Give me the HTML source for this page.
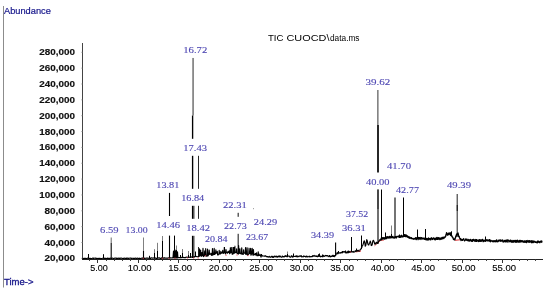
<!DOCTYPE html>
<html><head><meta charset="utf-8"><style>html,body{margin:0;padding:0;background:#fff;overflow:hidden}svg{display:block;will-change:transform}.ls{font-family:"Liberation Sans",sans-serif}.lr{font-family:"Liberation Serif",serif}</style></head>
<body><svg width="550" height="291" viewBox="0 0 550 291">
<rect width="550" height="291" fill="#fff"/>
<line x1="3.5" y1="6" x2="3.5" y2="287.5" stroke="#8c8c8c" stroke-width="1"/>
<text x="4" y="13.6" class="ls" font-size="9.8" fill="#14148a" stroke="#14148a" stroke-width="0.2" textLength="46.8" lengthAdjust="spacingAndGlyphs">Abundance</text>
<text x="4" y="284.8" class="ls" font-size="8.8" fill="#16168a" stroke="#16168a" stroke-width="0.3" textLength="29.5" lengthAdjust="spacingAndGlyphs">Time-&gt;</text>
<line x1="82.5" y1="43" x2="82.5" y2="259.5" stroke="#444" stroke-width="1"/>
<text x="75.0" y="55.30" text-anchor="end" class="ls" font-weight="bold" font-size="8.6" fill="#111" stroke="#111" stroke-width="0.15" textLength="35.7" lengthAdjust="spacingAndGlyphs">280,000</text>
<line x1="81" y1="52.30" x2="82.5" y2="52.30" stroke="#999" stroke-width="0.6"/>
<text x="75.0" y="71.15" text-anchor="end" class="ls" font-weight="bold" font-size="8.6" fill="#111" stroke="#111" stroke-width="0.15" textLength="35.7" lengthAdjust="spacingAndGlyphs">260,000</text>
<line x1="81" y1="68.15" x2="82.5" y2="68.15" stroke="#999" stroke-width="0.6"/>
<text x="75.0" y="87.00" text-anchor="end" class="ls" font-weight="bold" font-size="8.6" fill="#111" stroke="#111" stroke-width="0.15" textLength="35.7" lengthAdjust="spacingAndGlyphs">240,000</text>
<line x1="81" y1="84.00" x2="82.5" y2="84.00" stroke="#999" stroke-width="0.6"/>
<text x="75.0" y="102.85" text-anchor="end" class="ls" font-weight="bold" font-size="8.6" fill="#111" stroke="#111" stroke-width="0.15" textLength="35.7" lengthAdjust="spacingAndGlyphs">220,000</text>
<line x1="81" y1="99.85" x2="82.5" y2="99.85" stroke="#999" stroke-width="0.6"/>
<text x="75.0" y="118.70" text-anchor="end" class="ls" font-weight="bold" font-size="8.6" fill="#111" stroke="#111" stroke-width="0.15" textLength="35.7" lengthAdjust="spacingAndGlyphs">200,000</text>
<line x1="81" y1="115.70" x2="82.5" y2="115.70" stroke="#999" stroke-width="0.6"/>
<text x="75.0" y="134.55" text-anchor="end" class="ls" font-weight="bold" font-size="8.6" fill="#111" stroke="#111" stroke-width="0.15" textLength="35.7" lengthAdjust="spacingAndGlyphs">180,000</text>
<line x1="81" y1="131.55" x2="82.5" y2="131.55" stroke="#999" stroke-width="0.6"/>
<text x="75.0" y="150.40" text-anchor="end" class="ls" font-weight="bold" font-size="8.6" fill="#111" stroke="#111" stroke-width="0.15" textLength="35.7" lengthAdjust="spacingAndGlyphs">160,000</text>
<line x1="81" y1="147.40" x2="82.5" y2="147.40" stroke="#999" stroke-width="0.6"/>
<text x="75.0" y="166.25" text-anchor="end" class="ls" font-weight="bold" font-size="8.6" fill="#111" stroke="#111" stroke-width="0.15" textLength="35.7" lengthAdjust="spacingAndGlyphs">140,000</text>
<line x1="81" y1="163.25" x2="82.5" y2="163.25" stroke="#999" stroke-width="0.6"/>
<text x="75.0" y="182.10" text-anchor="end" class="ls" font-weight="bold" font-size="8.6" fill="#111" stroke="#111" stroke-width="0.15" textLength="35.7" lengthAdjust="spacingAndGlyphs">120,000</text>
<line x1="81" y1="179.10" x2="82.5" y2="179.10" stroke="#999" stroke-width="0.6"/>
<text x="75.0" y="197.95" text-anchor="end" class="ls" font-weight="bold" font-size="8.6" fill="#111" stroke="#111" stroke-width="0.15" textLength="35.7" lengthAdjust="spacingAndGlyphs">100,000</text>
<line x1="81" y1="194.95" x2="82.5" y2="194.95" stroke="#999" stroke-width="0.6"/>
<text x="75.0" y="213.80" text-anchor="end" class="ls" font-weight="bold" font-size="8.6" fill="#111" stroke="#111" stroke-width="0.15" textLength="30.5" lengthAdjust="spacingAndGlyphs">80,000</text>
<line x1="81" y1="210.80" x2="82.5" y2="210.80" stroke="#999" stroke-width="0.6"/>
<text x="75.0" y="229.65" text-anchor="end" class="ls" font-weight="bold" font-size="8.6" fill="#111" stroke="#111" stroke-width="0.15" textLength="30.5" lengthAdjust="spacingAndGlyphs">60,000</text>
<line x1="81" y1="226.65" x2="82.5" y2="226.65" stroke="#999" stroke-width="0.6"/>
<text x="75.0" y="245.50" text-anchor="end" class="ls" font-weight="bold" font-size="8.6" fill="#111" stroke="#111" stroke-width="0.15" textLength="30.5" lengthAdjust="spacingAndGlyphs">40,000</text>
<line x1="81" y1="242.50" x2="82.5" y2="242.50" stroke="#999" stroke-width="0.6"/>
<text x="75.0" y="261.35" text-anchor="end" class="ls" font-weight="bold" font-size="8.6" fill="#111" stroke="#111" stroke-width="0.15" textLength="30.5" lengthAdjust="spacingAndGlyphs">20,000</text>
<line x1="81" y1="258.35" x2="82.5" y2="258.35" stroke="#999" stroke-width="0.6"/>
<line x1="82" y1="259.5" x2="543" y2="259.5" stroke="#222" stroke-width="1"/>
<line x1="89.50" y1="259.5" x2="89.50" y2="261" stroke="#444" stroke-width="1"/>
<line x1="97.50" y1="259.5" x2="97.50" y2="263" stroke="#333" stroke-width="1"/>
<text x="99.10" y="271.1" text-anchor="middle" class="ls" font-size="8.6" fill="#000" stroke="#000" stroke-width="0.1" textLength="17.6" lengthAdjust="spacingAndGlyphs">5.00</text>
<line x1="106.50" y1="259.5" x2="106.50" y2="261" stroke="#444" stroke-width="1"/>
<line x1="114.50" y1="259.5" x2="114.50" y2="261" stroke="#444" stroke-width="1"/>
<line x1="122.50" y1="259.5" x2="122.50" y2="261" stroke="#444" stroke-width="1"/>
<line x1="130.50" y1="259.5" x2="130.50" y2="261" stroke="#444" stroke-width="1"/>
<line x1="138.50" y1="259.5" x2="138.50" y2="263" stroke="#333" stroke-width="1"/>
<text x="139.60" y="271.1" text-anchor="middle" class="ls" font-size="8.6" fill="#000" stroke="#000" stroke-width="0.1" textLength="23.8" lengthAdjust="spacingAndGlyphs">10.00</text>
<line x1="146.50" y1="259.5" x2="146.50" y2="261" stroke="#444" stroke-width="1"/>
<line x1="154.50" y1="259.5" x2="154.50" y2="261" stroke="#444" stroke-width="1"/>
<line x1="162.50" y1="259.5" x2="162.50" y2="261" stroke="#444" stroke-width="1"/>
<line x1="170.50" y1="259.5" x2="170.50" y2="261" stroke="#444" stroke-width="1"/>
<line x1="178.50" y1="259.5" x2="178.50" y2="263" stroke="#333" stroke-width="1"/>
<text x="180.10" y="271.1" text-anchor="middle" class="ls" font-size="8.6" fill="#000" stroke="#000" stroke-width="0.1" textLength="23.8" lengthAdjust="spacingAndGlyphs">15.00</text>
<line x1="187.50" y1="259.5" x2="187.50" y2="261" stroke="#444" stroke-width="1"/>
<line x1="195.50" y1="259.5" x2="195.50" y2="261" stroke="#444" stroke-width="1"/>
<line x1="203.50" y1="259.5" x2="203.50" y2="261" stroke="#444" stroke-width="1"/>
<line x1="211.50" y1="259.5" x2="211.50" y2="261" stroke="#444" stroke-width="1"/>
<line x1="219.50" y1="259.5" x2="219.50" y2="263" stroke="#333" stroke-width="1"/>
<text x="220.60" y="271.1" text-anchor="middle" class="ls" font-size="8.6" fill="#000" stroke="#000" stroke-width="0.1" textLength="23.8" lengthAdjust="spacingAndGlyphs">20.00</text>
<line x1="227.50" y1="259.5" x2="227.50" y2="261" stroke="#444" stroke-width="1"/>
<line x1="235.50" y1="259.5" x2="235.50" y2="261" stroke="#444" stroke-width="1"/>
<line x1="243.50" y1="259.5" x2="243.50" y2="261" stroke="#444" stroke-width="1"/>
<line x1="251.50" y1="259.5" x2="251.50" y2="261" stroke="#444" stroke-width="1"/>
<line x1="259.50" y1="259.5" x2="259.50" y2="263" stroke="#333" stroke-width="1"/>
<text x="261.10" y="271.1" text-anchor="middle" class="ls" font-size="8.6" fill="#000" stroke="#000" stroke-width="0.1" textLength="23.8" lengthAdjust="spacingAndGlyphs">25.00</text>
<line x1="268.50" y1="259.5" x2="268.50" y2="261" stroke="#444" stroke-width="1"/>
<line x1="276.50" y1="259.5" x2="276.50" y2="261" stroke="#444" stroke-width="1"/>
<line x1="284.50" y1="259.5" x2="284.50" y2="261" stroke="#444" stroke-width="1"/>
<line x1="292.50" y1="259.5" x2="292.50" y2="261" stroke="#444" stroke-width="1"/>
<line x1="300.50" y1="259.5" x2="300.50" y2="263" stroke="#333" stroke-width="1"/>
<text x="301.60" y="271.1" text-anchor="middle" class="ls" font-size="8.6" fill="#000" stroke="#000" stroke-width="0.1" textLength="23.8" lengthAdjust="spacingAndGlyphs">30.00</text>
<line x1="308.50" y1="259.5" x2="308.50" y2="261" stroke="#444" stroke-width="1"/>
<line x1="316.50" y1="259.5" x2="316.50" y2="261" stroke="#444" stroke-width="1"/>
<line x1="324.50" y1="259.5" x2="324.50" y2="261" stroke="#444" stroke-width="1"/>
<line x1="332.50" y1="259.5" x2="332.50" y2="261" stroke="#444" stroke-width="1"/>
<line x1="340.50" y1="259.5" x2="340.50" y2="263" stroke="#333" stroke-width="1"/>
<text x="342.10" y="271.1" text-anchor="middle" class="ls" font-size="8.6" fill="#000" stroke="#000" stroke-width="0.1" textLength="23.8" lengthAdjust="spacingAndGlyphs">35.00</text>
<line x1="349.50" y1="259.5" x2="349.50" y2="261" stroke="#444" stroke-width="1"/>
<line x1="357.50" y1="259.5" x2="357.50" y2="261" stroke="#444" stroke-width="1"/>
<line x1="365.50" y1="259.5" x2="365.50" y2="261" stroke="#444" stroke-width="1"/>
<line x1="373.50" y1="259.5" x2="373.50" y2="261" stroke="#444" stroke-width="1"/>
<line x1="381.50" y1="259.5" x2="381.50" y2="263" stroke="#333" stroke-width="1"/>
<text x="382.60" y="271.1" text-anchor="middle" class="ls" font-size="8.6" fill="#000" stroke="#000" stroke-width="0.1" textLength="23.8" lengthAdjust="spacingAndGlyphs">40.00</text>
<line x1="389.50" y1="259.5" x2="389.50" y2="261" stroke="#444" stroke-width="1"/>
<line x1="397.50" y1="259.5" x2="397.50" y2="261" stroke="#444" stroke-width="1"/>
<line x1="405.50" y1="259.5" x2="405.50" y2="261" stroke="#444" stroke-width="1"/>
<line x1="413.50" y1="259.5" x2="413.50" y2="261" stroke="#444" stroke-width="1"/>
<line x1="421.50" y1="259.5" x2="421.50" y2="263" stroke="#333" stroke-width="1"/>
<text x="423.10" y="271.1" text-anchor="middle" class="ls" font-size="8.6" fill="#000" stroke="#000" stroke-width="0.1" textLength="23.8" lengthAdjust="spacingAndGlyphs">45.00</text>
<line x1="430.50" y1="259.5" x2="430.50" y2="261" stroke="#444" stroke-width="1"/>
<line x1="438.50" y1="259.5" x2="438.50" y2="261" stroke="#444" stroke-width="1"/>
<line x1="446.50" y1="259.5" x2="446.50" y2="261" stroke="#444" stroke-width="1"/>
<line x1="454.50" y1="259.5" x2="454.50" y2="261" stroke="#444" stroke-width="1"/>
<line x1="462.50" y1="259.5" x2="462.50" y2="263" stroke="#333" stroke-width="1"/>
<text x="463.60" y="271.1" text-anchor="middle" class="ls" font-size="8.6" fill="#000" stroke="#000" stroke-width="0.1" textLength="23.8" lengthAdjust="spacingAndGlyphs">50.00</text>
<line x1="470.50" y1="259.5" x2="470.50" y2="261" stroke="#444" stroke-width="1"/>
<line x1="478.50" y1="259.5" x2="478.50" y2="261" stroke="#444" stroke-width="1"/>
<line x1="486.50" y1="259.5" x2="486.50" y2="261" stroke="#444" stroke-width="1"/>
<line x1="494.50" y1="259.5" x2="494.50" y2="261" stroke="#444" stroke-width="1"/>
<line x1="502.50" y1="259.5" x2="502.50" y2="263" stroke="#333" stroke-width="1"/>
<text x="504.10" y="271.1" text-anchor="middle" class="ls" font-size="8.6" fill="#000" stroke="#000" stroke-width="0.1" textLength="23.8" lengthAdjust="spacingAndGlyphs">55.00</text>
<line x1="511.50" y1="259.5" x2="511.50" y2="261" stroke="#444" stroke-width="1"/>
<line x1="519.50" y1="259.5" x2="519.50" y2="261" stroke="#444" stroke-width="1"/>
<line x1="527.50" y1="259.5" x2="527.50" y2="261" stroke="#444" stroke-width="1"/>
<line x1="535.50" y1="259.5" x2="535.50" y2="261" stroke="#444" stroke-width="1"/>
<polyline points="355.5,252 361,251" fill="none" stroke="#d83030" stroke-opacity="0.8" stroke-width="1"/>
<polyline points="374.5,245.8 380.5,240.6 384,240" fill="none" stroke="#d83030" stroke-opacity="0.8" stroke-width="1"/>
<polyline points="455,240.3 460,239.8" fill="none" stroke="#d83030" stroke-width="1"/>
<path d="M82.50,258.37 L83.00,258.44 L83.50,258.65 L84.00,258.38 L84.50,258.40 L85.00,258.45 L85.50,258.21 L86.00,258.41 L86.50,258.48 L87.00,258.58 L87.50,258.16 L88.00,258.28 L88.50,258.15 L89.00,258.59 L89.50,258.52 L90.00,258.13 L90.50,258.69 L91.00,258.68 L91.50,258.49 L92.00,258.47 L92.50,258.19 L93.00,258.11 L93.50,258.42 L94.00,258.14 L94.50,258.21 L95.00,258.25 L95.50,258.12 L96.00,258.38 L96.50,258.36 L97.00,258.61 L97.50,258.41 L98.00,258.48 L98.50,258.40 L99.00,258.50 L99.50,258.37 L100.00,258.27 L100.50,258.70 L101.00,258.69 L101.50,258.60 L102.00,258.52 L102.50,258.28 L103.00,258.23 L103.50,258.26 L104.00,258.13 L104.50,258.55 L105.00,258.33 L105.50,258.59 L106.00,258.32 L106.50,258.66 L107.00,258.59 L107.50,258.08 L108.00,258.21 L108.50,258.62 L109.00,258.36 L109.50,258.66 L110.00,258.31 L110.50,258.12 L111.00,258.45 L111.50,258.54 L112.00,258.23 L112.50,258.12 L113.00,258.27 L113.50,258.64 L114.00,258.52 L114.50,258.13 L115.00,258.21 L115.50,258.12 L116.00,258.10 L116.50,258.54 L117.00,258.16 L117.50,258.39 L118.00,258.32 L118.50,258.17 L119.00,258.49 L119.50,258.13 L120.00,258.44 L120.50,258.12 L121.00,258.30 L121.50,258.17 L122.00,258.21 L122.50,258.63 L123.00,258.52 L123.50,258.22 L124.00,258.57 L124.50,258.17 L125.00,258.27 L125.50,258.55 L126.00,258.42 L126.50,258.09 L127.00,258.63 L127.50,258.16 L128.00,258.18 L128.50,258.49 L129.00,258.22 L129.50,258.20 L130.00,258.07 L130.50,258.08 L131.00,258.37 L131.50,258.17 L132.00,258.38 L132.50,258.24 L133.00,258.29 L133.50,258.59 L134.00,258.31 L134.50,258.36 L135.00,258.53 L135.50,258.12 L136.00,258.10 L136.50,258.55 L137.00,258.50 L137.50,258.16 L138.00,258.12 L138.50,258.45 L139.00,258.57 L139.50,258.12 L140.00,258.57 L140.50,258.52 L141.00,258.35 L141.50,258.24 L142.00,258.04 L142.50,258.00 L143.00,258.55 L143.50,258.11 L144.00,258.38 L144.50,258.11 L145.00,258.44 L145.50,258.30 L146.00,258.12 L146.50,258.04 L147.00,258.36 L147.50,257.97 L148.00,258.06 L148.50,258.25 L149.00,258.42 L149.50,258.27 L150.00,258.07 L150.50,258.45 L151.00,258.01 L151.50,257.89 L152.00,258.04 L152.50,258.14 L153.00,257.91 L153.50,257.97 L154.00,258.08 L154.50,258.20 L155.00,257.93 L155.50,258.06 L156.00,258.37 L156.50,258.42 L157.00,258.22 L157.50,258.24 L158.00,258.17 L158.50,257.90 L159.00,257.83 L159.50,257.82 L160.00,258.35 L160.50,258.21 L161.00,258.35 L161.50,257.78 L162.00,258.13 L162.50,258.03 L163.00,258.16 L163.50,257.90 L164.00,258.30 L164.50,257.73 L165.00,258.00 L165.50,258.10 L166.00,258.19 L166.50,258.08 L167.00,258.05 L167.50,258.09 L168.00,258.15 L168.50,257.80 L169.00,257.99 L169.50,258.10 L170.00,258.07 L170.50,257.79 L171.00,258.00 L171.50,258.03 L172.00,257.84 L172.50,257.86 L173.00,257.71 L173.50,251.17 L173.90,258.00 L174.30,251.22 L174.70,258.00 L175.10,250.16 L175.50,258.00 L175.90,251.28 L176.30,258.00 L176.70,251.99 L177.10,258.00 L177.50,251.76 L177.90,257.80 L178.40,257.59 L178.90,257.78 L179.40,257.68 L179.90,257.58 L180.40,257.81 L180.90,257.34 L181.40,257.73 L181.90,257.29 L182.40,257.62 L182.90,257.54 L183.40,257.38 L183.90,257.64 L184.40,257.51 L184.90,257.57 L185.40,257.73 L185.90,257.29 L186.40,257.11 L186.90,257.25 L187.40,257.45 L187.90,257.13 L188.40,257.08 L188.90,257.48 L189.40,257.30 L189.90,257.14 L190.40,257.38 L190.90,257.00 L191.40,257.15 L191.90,256.81 L192.40,256.89 L192.90,257.06 L193.40,257.06 L193.90,256.98 L194.40,256.62 L194.90,256.68 L195.40,256.46 L195.90,256.29 L196.40,256.50 L196.90,256.70 L197.40,256.71 L197.90,256.63 L198.40,256.77 L198.90,256.37 L199.05,255.84 L199.40,248.85 L199.75,256.28 L200.26,255.30 L200.61,250.05 L200.96,255.63 L201.58,254.30 L201.93,252.68 L202.28,255.62 L202.65,254.48 L203.00,248.36 L203.35,256.56 L204.36,255.75 L204.71,250.95 L205.06,254.55 L205.38,255.27 L205.73,248.67 L206.08,256.34 L207.21,255.81 L207.56,249.02 L207.91,256.05 L208.84,254.38 L209.19,250.02 L209.54,254.32 L210.65,254.01 L211.00,253.20 L211.35,255.22 L212.12,255.50 L212.47,248.51 L212.82,254.35 L213.84,254.62 L214.19,248.43 L214.54,254.44 L215.53,253.60 L215.88,249.92 L216.23,253.25 L216.93,252.77 L217.28,251.27 L217.63,254.82 L218.86,254.58 L219.21,250.31 L219.56,253.77 L220.49,253.85 L220.84,251.31 L221.19,253.37 L222.37,252.30 L222.72,250.41 L223.07,253.50 L224.02,252.74 L224.37,246.91 L224.72,252.50 L225.66,253.97 L226.01,249.67 L226.36,252.25 L227.64,253.16 L227.99,251.31 L228.34,252.52 L228.96,252.36 L229.31,250.74 L229.66,253.63 L230.04,253.12 L230.39,247.70 L230.74,252.58 L231.53,252.48 L231.88,245.76 L232.23,254.34 L233.33,253.66 L233.68,246.15 L234.03,252.53 L234.47,253.21 L234.82,245.97 L235.17,252.69 L236.31,252.22 L236.66,248.81 L237.01,253.35 L238.26,254.13 L238.61,245.55 L238.96,253.36 L239.55,253.15 L239.90,248.90 L240.25,253.44 L241.39,254.06 L241.74,247.75 L242.09,253.88 L243.24,254.41 L243.59,249.87 L243.94,252.80 L245.21,253.61 L245.56,247.49 L245.91,254.54 L246.74,253.65 L247.09,247.70 L247.44,255.10 L248.71,254.32 L249.06,248.20 L249.41,253.32 L250.27,253.72 L250.62,248.39 L250.97,255.29 L251.81,253.18 L252.16,248.36 L252.51,253.26 L253.08,255.36 L253.43,249.53 L253.78,254.59 L254.90,254.63 L255.25,253.55 L255.60,255.03 L256.09,253.63 L256.44,252.88 L256.79,255.62 L257.87,255.64 L258.22,251.76 L258.57,255.55 L259.56,255.40 L259.91,254.21 L260.26,254.74 L260.66,256.09 L261.01,257.16 L261.36,255.12 L262.26,255.57 L262.76,256.11 L263.26,256.02 L263.76,255.97 L264.26,256.07 L264.76,256.29 L265.26,255.77 L265.76,255.89 L266.26,256.57 L266.76,256.62 L267.26,256.50 L267.76,257.03 L268.26,256.72 L268.76,257.13 L269.26,256.23 L269.76,257.04 L270.26,257.16 L270.76,257.30 L271.26,256.41 L271.76,256.40 L272.26,257.31 L272.76,256.25 L273.26,257.41 L273.76,257.24 L274.26,256.11 L274.76,256.26 L275.26,256.99 L275.76,256.28 L276.26,256.03 L276.76,257.13 L277.26,256.51 L277.76,257.06 L278.26,256.06 L278.76,256.47 L279.26,256.89 L279.76,255.88 L280.26,256.15 L280.76,256.87 L281.26,257.20 L281.76,257.28 L282.26,256.00 L282.76,256.58 L283.26,256.95 L283.76,256.57 L284.26,256.84 L284.76,256.09 L285.26,255.90 L285.76,255.95 L286.26,255.84 L286.76,256.61 L287.26,256.55 L287.76,256.63 L288.26,255.99 L288.76,256.04 L289.26,256.06 L289.76,257.01 L290.26,257.23 L290.76,257.13 L291.26,255.88 L291.76,255.82 L292.26,257.15 L292.76,256.41 L293.26,256.86 L293.76,256.20 L294.26,256.40 L294.76,256.47 L295.26,256.33 L295.76,256.58 L296.26,255.69 L296.76,256.72 L297.26,256.93 L297.76,255.93 L298.26,256.33 L298.76,256.75 L299.26,256.25 L299.76,255.93 L300.26,255.87 L300.76,256.39 L301.26,255.64 L301.76,256.95 L302.26,256.81 L302.76,256.65 L303.26,256.88 L303.76,256.53 L304.26,256.19 L304.76,256.47 L305.26,256.32 L305.76,257.03 L306.26,256.76 L306.76,255.94 L307.26,256.91 L307.76,256.65 L308.26,256.70 L308.76,256.75 L309.26,256.13 L309.76,256.86 L310.26,256.83 L310.76,256.54 L311.26,256.65 L311.76,256.64 L312.26,256.09 L312.76,256.56 L313.26,255.58 L313.76,255.98 L314.26,256.16 L314.76,255.47 L315.26,255.98 L315.76,256.40 L316.26,256.37 L316.76,255.78 L317.26,256.84 L317.76,256.42 L318.26,255.92 L318.76,256.40 L319.26,256.26 L319.76,256.20 L320.26,255.98 L320.76,256.89 L321.26,256.35 L321.76,256.43 L322.26,256.52 L322.76,256.84 L323.26,255.40 L323.76,256.28 L324.26,256.46 L324.76,255.73 L325.26,255.95 L325.76,255.42 L326.26,255.63 L326.76,255.89 L327.26,255.47 L327.76,255.70 L328.26,256.67 L328.76,256.13 L329.26,256.07 L329.76,256.75 L330.26,256.15 L330.76,256.78 L331.26,256.24 L331.76,256.49 L332.26,255.39 L332.76,256.16 L333.26,256.40 L333.76,255.33 L334.26,256.65 L334.76,255.49 L335.26,255.95 L335.76,254.75 L336.26,254.09 L336.76,253.61 L337.26,252.45 L337.76,253.88 L338.26,252.86 L338.76,253.05 L339.26,253.18 L339.76,252.76 L340.26,252.55 L340.76,253.09 L341.26,252.79 L341.76,252.17 L342.26,252.89 L342.76,252.13 L343.26,251.63 L343.76,252.04 L344.26,251.65 L344.76,251.81 L345.26,252.83 L345.76,252.13 L346.26,252.99 L346.76,252.67 L347.26,251.34 L347.76,252.93 L348.26,252.75 L348.76,251.08 L349.26,252.49 L349.76,251.55 L350.26,251.55 L350.76,252.36 L351.26,250.96 L351.76,251.38 L352.26,252.11 L352.76,251.78 L353.26,251.37 L353.76,252.34 L354.26,252.04 L354.76,251.59 L355.26,250.65 L355.76,251.50 L356.26,251.14 L356.76,250.62 L357.26,250.29 L357.76,251.08 L358.26,250.32 L358.76,250.90 L359.26,251.30 L359.76,250.53 L360.26,249.43 L360.76,249.26 L361.26,248.21 L361.76,247.71 L362.26,245.79 L362.76,245.41 L363.26,243.80 L363.76,241.78 L364.26,240.83 L364.76,242.37 L365.26,246.07 L365.76,245.43 L366.26,242.67 L366.76,239.64 L367.26,240.80 L367.76,243.47 L368.26,244.86 L368.76,244.97 L369.26,243.64 L369.76,242.49 L370.26,241.12 L370.76,242.53 L371.26,245.55 L371.76,245.45 L372.26,244.31 L372.76,241.25 L373.26,240.25 L373.76,240.90 L374.26,242.50 L374.76,244.21 L375.26,243.28 L375.76,243.84 L376.26,242.39 L376.76,242.25 L377.26,243.40 L377.76,242.74 L378.26,242.22 L378.76,241.09 L379.26,240.74 L379.76,239.84 L380.26,239.60 L380.56,240.24 L380.86,240.19" fill="none" stroke="#000" stroke-width="1.15" stroke-linejoin="round"/>
<path d="M380.56,240.24 L380.86,240.19 L381.16,238.26 L381.46,238.11 L381.76,239.38 L382.06,238.76 L382.36,239.03 L382.66,237.76 L382.96,238.17 L383.26,237.76 L383.56,238.92 L383.86,237.90 L384.16,238.48 L384.46,239.17 L384.76,237.66 L385.06,238.10 L385.36,238.48 L385.66,238.82 L385.96,237.68 L386.26,237.50 L386.56,236.85 L386.86,238.52 L387.16,236.71 L387.46,236.67 L387.76,237.68 L388.06,237.46 L388.36,237.89 L388.66,237.02 L388.96,238.05 L389.26,236.49 L389.56,236.77 L389.86,237.74 L390.16,236.44 L390.46,236.91 L390.76,237.82 L391.06,237.74 L391.36,236.81 L391.66,236.49 L391.96,236.94 L392.26,237.73 L392.56,236.92 L392.86,236.35 L393.16,237.64 L393.46,237.31 L393.76,238.06 L394.06,238.09 L394.36,238.01 L394.66,236.95 L394.96,237.73 L395.26,236.62 L395.56,236.63 L395.86,236.79 L396.16,237.94 L396.46,237.82 L396.76,236.37 L397.06,236.59 L397.36,236.57 L397.66,236.53 L397.96,236.57 L398.26,236.53 L398.56,236.07 L398.86,236.85 L399.16,237.34 L399.46,236.74 L399.76,237.36 L400.06,236.73 L400.36,235.85 L400.66,237.10 L400.96,237.34 L401.26,235.95 L401.56,235.31 L401.86,236.32 L402.16,236.31 L402.46,236.28 L402.76,237.09 L403.06,236.32 L403.36,236.58 L403.66,234.88 L403.96,235.86 L404.26,236.32 L404.56,234.69 L404.86,234.61 L405.16,236.09 L405.46,236.56 L405.76,234.89 L406.06,236.22 L406.36,235.26 L406.66,236.71 L406.96,236.61 L407.26,235.84 L407.56,235.91 L407.86,237.23 L408.16,236.81 L408.46,237.47 L408.76,236.77 L409.06,236.77 L409.36,238.27 L409.66,237.74 L409.96,237.47 L410.26,237.63 L410.56,238.10 L410.86,238.13 L411.16,238.65 L411.46,237.60 L411.76,238.57 L412.06,238.28 L412.36,238.75 L412.66,238.71 L412.96,238.83 L413.26,239.01 L413.56,239.22 L413.86,238.58 L414.16,238.38 L414.46,238.85 L414.76,239.12 L415.06,238.33 L415.36,238.33 L415.66,237.72 L415.96,239.03 L416.26,239.58 L416.56,238.23 L416.86,237.77 L417.16,237.85 L417.46,238.33 L417.76,238.04 L418.06,239.53 L418.36,237.53 L418.66,238.08 L418.96,237.65 L419.26,238.83 L419.56,239.11 L419.86,237.79 L420.16,237.55 L420.46,238.44 L420.76,238.74 L421.06,239.48 L421.36,237.58 L421.66,237.76 L421.96,237.95 L422.26,238.04 L422.56,238.10 L422.86,239.18 L423.16,238.93 L423.46,238.14 L423.76,238.08 L424.06,238.31 L424.36,238.09 L424.66,239.40 L424.96,238.44 L425.26,238.98 L425.56,239.59 L425.86,238.87 L426.16,238.41 L426.46,239.81 L426.76,239.89 L427.06,238.65 L427.36,239.09 L427.66,239.98 L427.96,238.92 L428.26,238.34 L428.56,237.95 L428.86,239.91 L429.16,239.58 L429.46,238.65 L429.76,238.95 L430.06,238.92 L430.36,238.37 L430.66,239.94 L430.96,239.19 L431.26,238.26 L431.56,237.75 L431.86,238.75 L432.16,238.52 L432.46,239.44 L432.76,239.25 L433.06,239.00 L433.36,238.00 L433.66,237.99 L433.96,238.34 L434.26,238.19 L434.56,239.52 L434.86,238.73 L435.16,238.99 L435.46,239.76 L435.76,238.15 L436.06,238.73 L436.36,237.87 L436.66,239.22 L436.96,237.52 L437.26,239.31 L437.56,239.36 L437.86,239.29 L438.16,237.65 L438.46,238.05 L438.76,239.02 L439.06,237.65 L439.36,238.48 L439.66,238.44 L439.96,239.50 L440.26,238.65 L440.56,239.21 L440.86,237.95 L441.16,238.97 L441.46,238.11 L441.76,239.17 L442.06,237.31 L442.36,238.89 L442.66,237.49 L442.96,238.18 L443.26,238.10 L443.56,237.25 L443.86,238.69 L444.16,237.50 L444.46,237.46 L444.76,236.90 L445.06,237.20 L445.36,236.69 L445.66,236.38 L445.96,234.73 L446.26,234.59 L446.56,232.67 L446.86,233.51 L447.16,233.86 L447.46,235.17 L447.76,235.07 L448.06,234.81 L448.36,233.25 L448.66,233.90 L448.96,234.48 L449.26,233.29 L449.56,233.86 L449.86,233.48 L450.16,232.67 L450.46,235.27 L450.76,235.30 L451.06,234.45 L451.36,235.80 L451.66,235.53 L451.96,236.17 L452.26,237.05 L452.56,237.04 L452.86,237.65 L453.16,238.30 L453.46,239.42 L453.76,239.05 L454.06,239.25 L454.36,239.97 L454.66,238.63 L454.96,239.54 L455.26,237.98 L455.56,237.59 L455.86,235.98 L456.16,236.52 L456.46,234.53 L456.76,234.26 L457.06,233.78 L457.36,234.69 L457.66,234.38 L457.96,232.84 L458.26,234.20 L458.56,236.21 L458.86,236.72 L459.16,236.50 L459.46,237.55 L459.76,238.15 L460.06,238.68 L460.36,239.32 L460.66,238.61 L460.96,240.49 L461.26,239.43 L461.56,239.63 L461.86,239.95 L462.16,240.24 L462.46,240.38 L462.76,239.44 L463.06,239.34 L463.36,239.54 L463.66,238.69 L463.96,239.56 L464.26,240.24 L464.56,240.88 L464.86,240.48 L465.16,240.21 L465.46,240.12 L465.76,238.84 L466.06,239.55 L466.36,239.60 L466.66,240.30 L466.96,239.12 L467.26,239.74 L467.56,240.05 L467.86,240.69 L468.16,240.79 L468.46,240.34 L468.76,239.36 L469.06,240.72 L469.36,241.04 L469.66,240.28 L469.96,239.87 L470.26,240.21 L470.56,239.43 L470.86,240.70 L471.16,241.31 L471.46,240.28 L471.76,240.73 L472.06,241.00 L472.36,239.60 L472.66,241.26 L472.96,240.57 L473.26,239.63 L473.56,239.39 L473.86,239.75 L474.16,240.49 L474.46,240.77 L474.76,239.97 L475.06,241.30 L475.36,240.06 L475.66,240.29 L475.96,239.55 L476.26,241.43 L476.56,239.60 L476.86,241.29 L477.16,240.51 L477.46,240.56 L477.76,240.57 L478.06,239.92 L478.36,241.35 L478.66,241.54 L478.96,241.17 L479.26,240.70 L479.56,239.66 L479.86,241.21 L480.16,240.04 L480.46,241.38 L480.76,239.95 L481.06,240.68 L481.36,241.25 L481.66,239.84 L481.96,240.64 L482.26,239.61 L482.56,239.52 L482.86,239.85 L483.16,241.63 L483.46,241.54 L483.76,240.92 L484.06,240.16 L484.36,240.96 L484.66,241.12 L484.96,240.34 L485.26,240.81 L485.56,241.28 L485.86,239.55 L486.16,239.96 L486.46,240.56 L486.76,239.85 L487.06,240.39 L487.36,240.80 L487.66,239.94 L487.96,240.70 L488.26,240.15 L488.56,240.82 L488.86,240.31 L489.16,240.99 L489.46,239.67 L489.76,241.07 L490.06,239.92 L490.36,241.72 L490.66,240.93 L490.96,240.65 L491.26,240.53 L491.56,241.00 L491.86,241.15 L492.16,241.31 L492.46,241.30 L492.76,240.72 L493.06,241.85 L493.36,241.51 L493.66,241.55 L493.96,240.58 L494.26,240.64 L494.56,240.94 L494.86,241.69 L495.16,240.86 L495.46,240.86 L495.76,240.67 L496.06,241.71 L496.36,240.43 L496.66,239.85 L496.96,241.34 L497.26,241.73 L497.56,241.36 L497.86,241.07 L498.16,241.42 L498.46,240.44 L498.76,241.08 L499.06,239.93 L499.36,240.06 L499.66,240.78 L499.96,240.91 L500.26,240.68 L500.56,239.93 L500.86,241.35 L501.16,240.98 L501.46,240.36 L501.76,240.51 L502.06,240.71 L502.36,240.37 L502.66,240.00 L502.96,241.86 L503.26,241.99 L503.56,241.34 L503.86,241.78 L504.16,240.81 L504.46,241.66 L504.76,240.38 L505.06,241.54 L505.36,241.15 L505.66,241.90 L505.96,240.14 L506.26,241.67 L506.56,240.20 L506.86,241.12 L507.16,242.04 L507.46,239.95 L507.76,240.49 L508.06,240.62 L508.36,240.68 L508.66,240.11 L508.96,241.95 L509.26,241.78 L509.56,240.87 L509.86,240.78 L510.16,241.29 L510.46,240.11 L510.76,240.08 L511.06,242.00 L511.36,240.70 L511.66,241.13 L511.96,242.09 L512.26,242.20 L512.56,241.09 L512.86,240.51 L513.16,240.71 L513.46,242.10 L513.76,242.05 L514.06,240.51 L514.36,241.93 L514.66,240.87 L514.96,241.14 L515.26,240.48 L515.56,242.05 L515.86,242.31 L516.16,240.57 L516.46,241.52 L516.76,240.56 L517.06,242.08 L517.36,240.26 L517.66,240.39 L517.96,241.76 L518.26,240.85 L518.56,242.15 L518.86,242.09 L519.16,241.75 L519.46,240.49 L519.76,241.73 L520.06,242.27 L520.36,241.19 L520.66,240.39 L520.96,240.72 L521.26,240.92 L521.56,241.81 L521.86,240.69 L522.16,240.67 L522.46,240.79 L522.76,241.75 L523.06,242.03 L523.36,241.12 L523.66,241.77 L523.96,242.27 L524.26,241.63 L524.56,240.85 L524.86,241.01 L525.16,242.40 L525.46,241.84 L525.76,240.99 L526.06,241.80 L526.36,240.60 L526.66,242.57 L526.96,241.39 L527.26,241.59 L527.56,241.60 L527.86,240.54 L528.16,241.77 L528.46,241.09 L528.76,241.02 L529.06,242.25 L529.36,240.68 L529.66,241.13 L529.96,242.17 L530.26,241.06 L530.56,241.14 L530.86,241.74 L531.16,240.96 L531.46,242.53 L531.76,242.74 L532.06,240.65 L532.36,241.60 L532.66,242.25 L532.96,241.45 L533.26,242.66 L533.56,241.72 L533.86,241.03 L534.16,241.86 L534.46,242.07 L534.76,241.45 L535.06,242.12 L535.36,242.40 L535.66,241.82 L535.96,241.81 L536.26,242.57 L536.56,242.22 L536.86,241.87 L537.16,242.83 L537.46,241.13 L537.76,242.47 L538.06,241.13 L538.36,242.11 L538.66,241.30 L538.96,241.76 L539.26,242.50 L539.56,242.54 L539.86,242.56 L540.16,241.35 L540.46,241.91 L540.76,241.33 L541.06,242.13 L541.36,241.96 L541.66,240.95 L541.96,242.20 L542.26,242.46" fill="none" stroke="#000" stroke-width="1.35" stroke-linejoin="round"/>
<line x1="88.50" y1="254" x2="88.50" y2="258.70" stroke="#000" stroke-width="1.05"/>
<line x1="103.50" y1="254.2" x2="103.50" y2="258.69" stroke="#000" stroke-width="1.05"/>
<line x1="149.50" y1="255.8" x2="149.50" y2="258.51" stroke="#000" stroke-width="1.05"/>
<line x1="154.50" y1="249.2" x2="154.50" y2="253" stroke="#000" stroke-width="0.5"/>
<line x1="154.50" y1="253" x2="154.50" y2="258.46" stroke="#000" stroke-width="1.05"/>
<line x1="157.50" y1="242.8" x2="157.50" y2="251" stroke="#000" stroke-width="0.5"/>
<line x1="157.50" y1="251" x2="157.50" y2="258.43" stroke="#000" stroke-width="1.05"/>
<line x1="162.50" y1="236" x2="162.50" y2="241" stroke="#000" stroke-width="0.5"/>
<line x1="162.50" y1="241" x2="162.50" y2="258.33" stroke="#000" stroke-width="1.05"/>
<line x1="174.50" y1="226" x2="174.50" y2="258.04" stroke="#000" stroke-width="1.05"/>
<line x1="176.50" y1="245.5" x2="176.50" y2="250" stroke="#000" stroke-width="0.5"/>
<line x1="176.50" y1="250" x2="176.50" y2="258.00" stroke="#000" stroke-width="1.05"/>
<line x1="180.50" y1="255" x2="180.50" y2="257.90" stroke="#000" stroke-width="1.05"/>
<line x1="182.50" y1="249" x2="182.50" y2="253" stroke="#000" stroke-width="0.5"/>
<line x1="182.50" y1="253" x2="182.50" y2="257.86" stroke="#000" stroke-width="1.05"/>
<line x1="188.50" y1="251" x2="188.50" y2="255" stroke="#000" stroke-width="0.5"/>
<line x1="188.50" y1="255" x2="188.50" y2="257.60" stroke="#000" stroke-width="1.05"/>
<line x1="190.50" y1="253" x2="190.50" y2="257.43" stroke="#000" stroke-width="1.05"/>
<line x1="195.50" y1="251.5" x2="195.50" y2="256.86" stroke="#000" stroke-width="1.05"/>
<line x1="201.50" y1="252.5" x2="201.50" y2="256.78" stroke="#000" stroke-width="1.05"/>
<line x1="261.50" y1="254" x2="261.50" y2="256.30" stroke="#000" stroke-width="1.05"/>
<line x1="285.50" y1="255.5" x2="285.50" y2="256.85" stroke="#000" stroke-width="1.05"/>
<line x1="287.50" y1="251.5" x2="287.50" y2="254" stroke="#000" stroke-width="0.5"/>
<line x1="287.50" y1="254" x2="287.50" y2="256.83" stroke="#000" stroke-width="1.05"/>
<line x1="293.50" y1="253.5" x2="293.50" y2="256.76" stroke="#000" stroke-width="1.05"/>
<line x1="303.50" y1="255.5" x2="303.50" y2="256.64" stroke="#000" stroke-width="1.05"/>
<line x1="312.50" y1="255.5" x2="312.50" y2="256.54" stroke="#000" stroke-width="1.05"/>
<line x1="318.50" y1="254.2" x2="318.50" y2="256.47" stroke="#000" stroke-width="1.05"/>
<line x1="319.50" y1="253.5" x2="319.50" y2="256.46" stroke="#000" stroke-width="1.05"/>
<line x1="322.50" y1="254.5" x2="322.50" y2="256.42" stroke="#000" stroke-width="1.05"/>
<line x1="329.50" y1="255" x2="329.50" y2="256.35" stroke="#000" stroke-width="1.05"/>
<line x1="338.50" y1="251" x2="338.50" y2="253.30" stroke="#000" stroke-width="1.05"/>
<line x1="342.50" y1="251" x2="342.50" y2="252.80" stroke="#000" stroke-width="1.05"/>
<line x1="345.50" y1="250.5" x2="345.50" y2="252.70" stroke="#000" stroke-width="1.05"/>
<line x1="348.50" y1="250.8" x2="348.50" y2="252.30" stroke="#000" stroke-width="1.05"/>
<line x1="351.50" y1="237" x2="351.50" y2="251.73" stroke="#000" stroke-width="1.05"/>
<line x1="356.50" y1="248.5" x2="356.50" y2="251.55" stroke="#000" stroke-width="1.05"/>
<line x1="361.50" y1="232" x2="361.50" y2="249.05" stroke="#000" stroke-width="1.05"/>
<line x1="385.50" y1="232.5" x2="385.50" y2="238.22" stroke="#000" stroke-width="1.05"/>
<line x1="391.50" y1="225.5" x2="391.50" y2="234" stroke="#000" stroke-width="0.5"/>
<line x1="391.50" y1="234" x2="391.50" y2="237.56" stroke="#000" stroke-width="1.05"/>
<line x1="399.50" y1="234.5" x2="399.50" y2="237.00" stroke="#000" stroke-width="1.05"/>
<line x1="417.50" y1="229.5" x2="417.50" y2="238.80" stroke="#000" stroke-width="1.05"/>
<line x1="425.50" y1="229" x2="425.50" y2="239.19" stroke="#000" stroke-width="1.05"/>
<line x1="451.50" y1="231.3" x2="451.50" y2="235.75" stroke="#000" stroke-width="1.05"/>
<line x1="485.50" y1="236.5" x2="485.50" y2="240.91" stroke="#000" stroke-width="1.05"/>
<line x1="193.05" y1="57.8" x2="193.05" y2="115.5" stroke="#000" stroke-opacity="1" stroke-width="0.85"/>
<line x1="192.60" y1="115.5" x2="192.60" y2="258" stroke="#000" stroke-opacity="1" stroke-width="1.35"/>
<line x1="193.90" y1="200" x2="193.90" y2="258" stroke="#000" stroke-opacity="1" stroke-width="0.9"/>
<line x1="169.50" y1="192.8" x2="169.50" y2="258" stroke="#000" stroke-opacity="1" stroke-width="1.1"/>
<line x1="198.50" y1="150" x2="198.50" y2="257" stroke="#000" stroke-opacity="1" stroke-width="0.85"/>
<line x1="111.20" y1="226" x2="111.20" y2="243" stroke="#000" stroke-opacity="1" stroke-width="0.6"/>
<line x1="111.20" y1="243" x2="111.20" y2="258" stroke="#000" stroke-opacity="1" stroke-width="1.1"/>
<line x1="143.50" y1="226" x2="143.50" y2="251" stroke="#000" stroke-opacity="1" stroke-width="0.5"/>
<line x1="143.50" y1="251" x2="143.50" y2="258" stroke="#000" stroke-opacity="1" stroke-width="1.1"/>
<line x1="238.20" y1="205" x2="238.20" y2="254" stroke="#000" stroke-opacity="0.8" stroke-width="1.2"/>
<line x1="335.60" y1="236" x2="335.60" y2="256" stroke="#000" stroke-opacity="1" stroke-width="1.1"/>
<line x1="377.90" y1="90" x2="377.90" y2="125" stroke="#000" stroke-opacity="1" stroke-width="0.8"/>
<line x1="378.00" y1="125" x2="378.00" y2="190" stroke="#000" stroke-opacity="1" stroke-width="1.7"/>
<line x1="378.00" y1="190" x2="378.00" y2="209" stroke="#000" stroke-opacity="0.85" stroke-width="1.7"/>
<line x1="378.00" y1="209" x2="378.00" y2="244" stroke="#000" stroke-opacity="0.7" stroke-width="1.6"/>
<line x1="381.50" y1="176" x2="381.50" y2="239" stroke="#000" stroke-opacity="1" stroke-width="1.0"/>
<line x1="395.00" y1="180" x2="395.00" y2="237.5" stroke="#000" stroke-opacity="1" stroke-width="1.1"/>
<line x1="403.50" y1="192" x2="403.50" y2="236" stroke="#000" stroke-opacity="1" stroke-width="1.0"/>
<line x1="457.20" y1="194" x2="457.20" y2="205" stroke="#000" stroke-opacity="0.8" stroke-width="1.1"/>
<line x1="457.20" y1="205" x2="457.20" y2="211" stroke="#000" stroke-opacity="1" stroke-width="1.3"/>
<line x1="457.20" y1="211" x2="457.20" y2="237" stroke="#000" stroke-opacity="0.8" stroke-width="1.1"/>
<circle cx="143.3" cy="258.2" r="0.75" fill="#e04050" fill-opacity="0.7"/>
<circle cx="162.5" cy="258.2" r="0.75" fill="#e04050" fill-opacity="0.7"/>
<circle cx="169" cy="258.2" r="0.75" fill="#e04050" fill-opacity="0.7"/>
<circle cx="175" cy="258.2" r="0.75" fill="#e04050" fill-opacity="0.7"/>
<circle cx="187.5" cy="258" r="0.75" fill="#e04050" fill-opacity="0.7"/>
<circle cx="193.6" cy="258" r="0.75" fill="#e04050" fill-opacity="0.7"/>
<circle cx="198.2" cy="258" r="0.75" fill="#e04050" fill-opacity="0.7"/>
<circle cx="205.5" cy="255.8" r="0.75" fill="#e04050" fill-opacity="0.7"/>
<circle cx="226" cy="255.3" r="0.75" fill="#e04050" fill-opacity="0.7"/>
<circle cx="237" cy="255" r="0.75" fill="#e04050" fill-opacity="0.7"/>
<circle cx="248" cy="255.5" r="0.75" fill="#e04050" fill-opacity="0.7"/>
<circle cx="350.5" cy="252" r="0.75" fill="#e04050" fill-opacity="0.7"/>
<circle cx="360" cy="251" r="0.75" fill="#e04050" fill-opacity="0.7"/>
<rect x="93.1" y="220.5" width="32.5" height="17" fill="#fff"/>
<rect x="118.6" y="220.5" width="36.1" height="17" fill="#fff"/>
<rect x="149.3" y="175.5" width="37.1" height="17" fill="#fff"/>
<rect x="149.2" y="216.0" width="37.8" height="19.6" fill="#fff"/>
<rect x="176.2" y="40.8" width="38.1" height="17" fill="#fff"/>
<rect x="176.2" y="138.8" width="37.8" height="17" fill="#fff"/>
<rect x="174.2" y="188.8" width="37.0" height="17" fill="#fff"/>
<rect x="179.2" y="218.8" width="37.8" height="17" fill="#fff"/>
<rect x="198.0" y="230.0" width="36.5" height="17" fill="#fff"/>
<rect x="216.0" y="195.8" width="37.8" height="17" fill="#fff"/>
<rect x="217.0" y="216.8" width="36.8" height="17" fill="#fff"/>
<rect x="246.8" y="212.8" width="37.4" height="17" fill="#fff"/>
<rect x="239.0" y="227.8" width="36.2" height="17" fill="#fff"/>
<rect x="304.0" y="225.5" width="37.0" height="17" fill="#fff"/>
<rect x="335.0" y="218.5" width="37.8" height="17" fill="#fff"/>
<rect x="339.0" y="204.5" width="36.2" height="17" fill="#fff"/>
<rect x="358.6" y="73.0" width="38.8" height="17" fill="#fff"/>
<rect x="359.0" y="172.5" width="37.5" height="17" fill="#fff"/>
<rect x="380.0" y="156.8" width="38.0" height="17" fill="#fff"/>
<rect x="389.0" y="180.5" width="37.0" height="17" fill="#fff"/>
<rect x="440.0" y="176.0" width="38.0" height="17" fill="#fff"/>
<text x="100.1" y="232.5" class="lr" font-size="9.1" fill="#4d46b2" stroke="#4d46b2" stroke-width="0.12" textLength="18.5" lengthAdjust="spacingAndGlyphs">6.59</text>
<text x="125.6" y="232.5" class="lr" font-size="9.1" fill="#4d46b2" stroke="#4d46b2" stroke-width="0.12" textLength="22.1" lengthAdjust="spacingAndGlyphs">13.00</text>
<text x="156.3" y="187.5" class="lr" font-size="9.1" fill="#4d46b2" stroke="#4d46b2" stroke-width="0.12" textLength="23.1" lengthAdjust="spacingAndGlyphs">13.81</text>
<text x="156.2" y="228" class="lr" font-size="9.1" fill="#4d46b2" stroke="#4d46b2" stroke-width="0.12" textLength="23.8" lengthAdjust="spacingAndGlyphs">14.46</text>
<text x="183.2" y="52.8" class="lr" font-size="9.1" fill="#4d46b2" stroke="#4d46b2" stroke-width="0.12" textLength="24.1" lengthAdjust="spacingAndGlyphs">16.72</text>
<text x="183.2" y="150.8" class="lr" font-size="9.1" fill="#4d46b2" stroke="#4d46b2" stroke-width="0.12" textLength="23.8" lengthAdjust="spacingAndGlyphs">17.43</text>
<text x="181.2" y="200.8" class="lr" font-size="9.1" fill="#4d46b2" stroke="#4d46b2" stroke-width="0.12" textLength="23" lengthAdjust="spacingAndGlyphs">16.84</text>
<text x="186.2" y="230.8" class="lr" font-size="9.1" fill="#4d46b2" stroke="#4d46b2" stroke-width="0.12" textLength="23.8" lengthAdjust="spacingAndGlyphs">18.42</text>
<text x="205" y="242" class="lr" font-size="9.1" fill="#4d46b2" stroke="#4d46b2" stroke-width="0.12" textLength="22.5" lengthAdjust="spacingAndGlyphs">20.84</text>
<text x="223" y="207.8" class="lr" font-size="9.1" fill="#4d46b2" stroke="#4d46b2" stroke-width="0.12" textLength="23.8" lengthAdjust="spacingAndGlyphs">22.31</text>
<text x="224" y="228.8" class="lr" font-size="9.1" fill="#4d46b2" stroke="#4d46b2" stroke-width="0.12" textLength="22.8" lengthAdjust="spacingAndGlyphs">22.73</text>
<text x="253.8" y="224.8" class="lr" font-size="9.1" fill="#4d46b2" stroke="#4d46b2" stroke-width="0.12" textLength="23.4" lengthAdjust="spacingAndGlyphs">24.29</text>
<text x="246" y="239.8" class="lr" font-size="9.1" fill="#4d46b2" stroke="#4d46b2" stroke-width="0.12" textLength="22.2" lengthAdjust="spacingAndGlyphs">23.67</text>
<text x="311" y="237.5" class="lr" font-size="9.1" fill="#4d46b2" stroke="#4d46b2" stroke-width="0.12" textLength="23" lengthAdjust="spacingAndGlyphs">34.39</text>
<text x="342" y="230.5" class="lr" font-size="9.1" fill="#4d46b2" stroke="#4d46b2" stroke-width="0.12" textLength="23.8" lengthAdjust="spacingAndGlyphs">36.31</text>
<text x="346" y="216.5" class="lr" font-size="9.1" fill="#4d46b2" stroke="#4d46b2" stroke-width="0.12" textLength="22.2" lengthAdjust="spacingAndGlyphs">37.52</text>
<text x="365.6" y="85" class="lr" font-size="9.1" fill="#4d46b2" stroke="#4d46b2" stroke-width="0.12" textLength="24.8" lengthAdjust="spacingAndGlyphs">39.62</text>
<text x="366" y="184.5" class="lr" font-size="9.1" fill="#4d46b2" stroke="#4d46b2" stroke-width="0.12" textLength="23.5" lengthAdjust="spacingAndGlyphs">40.00</text>
<text x="387" y="168.8" class="lr" font-size="9.1" fill="#4d46b2" stroke="#4d46b2" stroke-width="0.12" textLength="24" lengthAdjust="spacingAndGlyphs">41.70</text>
<text x="396" y="192.5" class="lr" font-size="9.1" fill="#4d46b2" stroke="#4d46b2" stroke-width="0.12" textLength="23" lengthAdjust="spacingAndGlyphs">42.77</text>
<text x="447" y="188" class="lr" font-size="9.1" fill="#4d46b2" stroke="#4d46b2" stroke-width="0.12" textLength="24" lengthAdjust="spacingAndGlyphs">49.39</text>
<rect x="253" y="208" width="1" height="1.2" fill="#000" fill-opacity="0.35"/>
<text x="268" y="41.4" class="ls" font-size="8.4" fill="#000" textLength="15.5" lengthAdjust="spacingAndGlyphs">TIC</text>
<text x="286.5" y="41.4" class="ls" font-size="8.4" fill="#000" textLength="43" lengthAdjust="spacingAndGlyphs">CUOCD\</text>
<text x="330" y="41.4" class="ls" font-size="8.4" fill="#000" textLength="29.5" lengthAdjust="spacingAndGlyphs">data.ms</text>
</svg></body></html>
